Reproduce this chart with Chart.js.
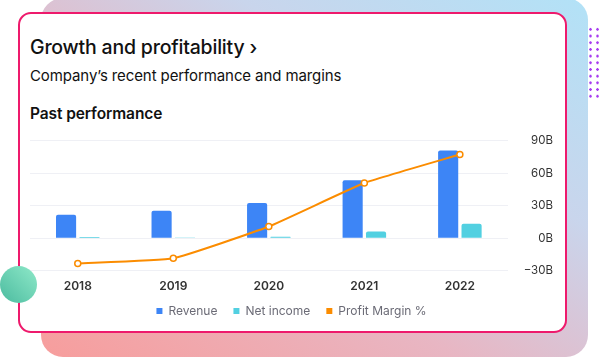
<!DOCTYPE html>
<html>
<head>
<meta charset="utf-8">
<script src="https://cdn.jsdelivr.net/npm/chart.js@4/dist/chart.umd.min.js"></script>
<style>
  html, body { margin: 0; padding: 0; width: 600px; height: 357px; background: #ffffff; overflow: hidden; }
  body { position: relative; font-family: Inter, "Noto Sans", sans-serif; }
  .bg { position: absolute; left: 41px; top: -2px; width: 547px; height: 359px; border-radius: 22px;
        background: linear-gradient(to top right, #f79d9c 0%, #e8b6c3 38%, #c9d5ec 68%, #b2e2f7 100%); }
  .dots { position: absolute; left: 587px; top: 26px; width: 13px; height: 74px;
          background-image: radial-gradient(circle, #a63cf0 1.1px, rgba(166,60,240,0) 1.5px);
          background-size: 7px 6.7px; background-position: 0 0; }
  .card { position: absolute; left: 18px; top: 12px; width: 545px; height: 317px; background: #fff;
          border: 2px solid #ee1a6c; border-radius: 13px; }
  .circle { position: absolute; left: 0px; top: 266px; width: 37px; height: 37px; border-radius: 50%;
            background: linear-gradient(to top right, #4bbb9f, #8fe9c9); }
  .t1 { position: absolute; left: 30px; top: 35px; font-size: 19.5px; font-weight: 500; color: #111; white-space: nowrap; letter-spacing: -0.2px; }
  .t2 { position: absolute; left: 30px; top: 66px; font-size: 15px; font-weight: 400; color: #111; white-space: nowrap; letter-spacing: -0.1px; }
  .t3 { position: absolute; left: 30px; top: 104px; font-size: 15.5px; font-weight: 600; color: #111; white-space: nowrap; letter-spacing: -0.1px; }
  .wrap { position: absolute; left: 20px; top: 126px; width: 545px; height: 215px; }
  canvas { display: block; }
</style>
</head>
<body>
<div class="bg"></div>
<div class="dots"></div>
<div class="card"></div>
<div class="t1">Growth and profitability ›</div>
<div class="t2">Company’s recent performance and margins</div>
<div class="t3">Past performance</div>
<div class="wrap"><canvas id="c" width="545" height="215"></canvas></div>
<div class="circle"></div>
<script>
const years = ['2018', '2019', '2020', '2021', '2022'];
const revenue = [21.7, 25.4, 32.5, 53.6, 81.2];
const netIncome = [1.0, 0.7, 1.4, 6.2, 13.4];
const profitMargin = [1.1, 1.9, 6.8, 13.5, 17.9];
const yTickLabels = ['−30B', '0B', '30B', '60B', '90B'];

const legendShift = {
  id: 'legendShift',
  afterLayout(chart) {
    const lg = chart.legend;
    const dy = -14;
    lg.top += dy; lg.bottom += dy;
  }
};

new Chart(document.getElementById('c'), {
  type: 'bar',
  data: {
    labels: years,
    datasets: [
      { label: 'Revenue', data: revenue, yAxisID: 'y', order: 1, backgroundColor: '#3d85f6',
        borderRadius: 2, borderSkipped: 'bottom', categoryPercentage: 0.49, barPercentage: 0.86 },
      { label: 'Net income', data: netIncome, yAxisID: 'y', order: 1, backgroundColor: '#52d0e1',
        borderRadius: 2, borderSkipped: 'bottom', categoryPercentage: 0.49, barPercentage: 0.86 },
      { type: 'line', label: 'Profit Margin %', data: profitMargin, yAxisID: 'y1', order: 0,
        borderColor: '#fb8c00', backgroundColor: '#fb8c00', borderWidth: 2, tension: 0.12,
        pointBackgroundColor: '#ffffff', pointBorderColor: '#fb8c00', pointBorderWidth: 1.5, pointRadius: 3 }
    ]
  },
  options: {
    responsive: false,
    animation: false,
    layout: { padding: { left: 10, right: 12, top: 0, bottom: 0 } },
    plugins: {
      tooltip: { enabled: false },
      legend: {
        position: 'bottom',
        labels: {
          boxWidth: 6, boxHeight: 6, padding: 16, color: '#6b6b76',
          font: { family: 'Inter', size: 12 },
          generateLabels(chart) {
            return chart.data.datasets.map((ds, i) => ({
              text: ds.label, fillStyle: ds.backgroundColor, strokeStyle: ds.backgroundColor,
              lineWidth: 0, datasetIndex: i, hidden: false, fontColor: '#6b6b76'
            }));
          }
        }
      }
    },
    scales: {
      x: {
        grid: { display: false, drawTicks: false },
        border: { display: false },
        ticks: { padding: 9, color: '#333', font: { family: 'Inter', size: 12, weight: '600' } }
      },
      y: {
        position: 'right',
        min: -30, max: 90,
        grid: { color: '#eff0f5', drawTicks: false },
        border: { display: false },
        ticks: { stepSize: 30, padding: 8, crossAlign: 'far', color: '#333',
                 font: { family: 'Inter', size: 11.5 },
                 callback: (v, i) => yTickLabels[i] }
      },
      y1: { display: false, min: 0, max: 20 }
    }
  },
  plugins: [legendShift]
});
</script>
</body>
</html>
